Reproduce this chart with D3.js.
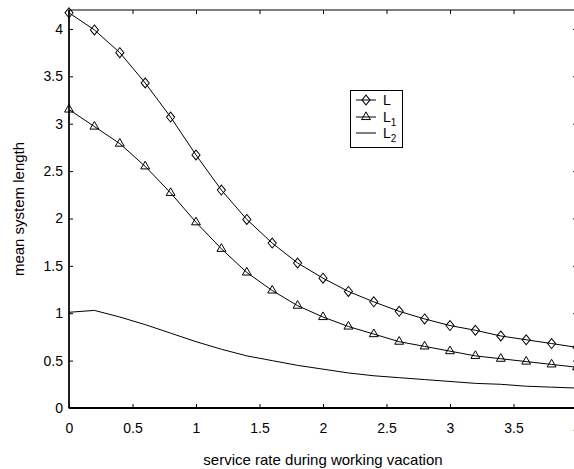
<!DOCTYPE html>
<html>
<head>
<meta charset="utf-8">
<script src="https://cdn.jsdelivr.net/npm/d3@7"></script>
<style>
  body { margin: 0; background: #fff; }
  svg { display: block; font-family: "Liberation Sans", Arial, sans-serif; }
</style>
</head>
<body>
<script>
// service rate during working vacation, 0 .. 4 in steps of 0.2
const rates = [0, 0.2, 0.4, 0.6, 0.8, 1.0, 1.2, 1.4, 1.6, 1.8, 2.0,
               2.2, 2.4, 2.6, 2.8, 3.0, 3.2, 3.4, 3.6, 3.8, 4.0];
const valuesL  = [4.17, 3.99, 3.75, 3.43, 3.07, 2.67, 2.30, 1.99, 1.74, 1.53, 1.37,
                  1.23, 1.12, 1.02, 0.94, 0.87, 0.82, 0.76, 0.72, 0.68, 0.64];
const valuesL1 = [3.15, 2.97, 2.79, 2.55, 2.27, 1.96, 1.68, 1.43, 1.24, 1.08, 0.96,
                  0.86, 0.78, 0.70, 0.65, 0.60, 0.55, 0.52, 0.49, 0.46, 0.43];
const valuesL2 = [1.01, 1.03, 0.96, 0.88, 0.79, 0.70, 0.62, 0.55, 0.50, 0.45, 0.41,
                  0.37, 0.34, 0.32, 0.30, 0.28, 0.26, 0.25, 0.23, 0.22, 0.21];
const xTicks = [0, 0.5, 1, 1.5, 2, 2.5, 3, 3.5, 4];
const yTicks = [0, 0.5, 1, 1.5, 2, 2.5, 3, 3.5, 4];

const width = 574, height = 469;
const mLeft = 69, mRight = 577, mTop = 10, mBottom = 408;

const svg = d3.select("body").append("svg")
    .attr("width", width)
    .attr("height", height);

const x = d3.scaleLinear().domain([0, 4]).range([mLeft, mRight]);
const y = d3.scaleLinear().domain([0, 4.2]).range([mBottom, mTop]);

// axes, ticks point inward like matlab
const fmt = d => String(d);
svg.append("g")
    .attr("transform", `translate(0,${mBottom})`)
    .call(d3.axisBottom(x).tickValues(xTicks).tickSize(-4).tickPadding(15).tickFormat(fmt));
svg.append("g")
    .attr("transform", `translate(0,${mTop})`)
    .call(d3.axisTop(x).tickValues(xTicks).tickSize(-4).tickFormat(""));
svg.append("g")
    .attr("transform", `translate(${mLeft},0)`)
    .call(d3.axisLeft(y).tickValues(yTicks).tickSize(-4).tickPadding(6).tickFormat(fmt));
svg.append("g")
    .attr("transform", `translate(${mRight},0)`)
    .call(d3.axisRight(y).tickValues(yTicks).tickSize(-4).tickFormat(""));

svg.selectAll(".domain").remove();
svg.selectAll(".tick line").attr("stroke", "#000");
svg.selectAll(".tick text")
    .attr("fill", "#000")
    .style("font-size", "14px")
    .style("font-family", "Liberation Sans, Arial, sans-serif");

// frame
svg.append("rect")
    .attr("x", mLeft).attr("y", mTop)
    .attr("width", mRight - mLeft).attr("height", mBottom - mTop)
    .attr("fill", "none").attr("stroke", "#000").attr("stroke-width", 1);
svg.append("line")
    .attr("x1", mLeft).attr("x2", mRight).attr("y1", mBottom).attr("y2", mBottom)
    .attr("stroke", "#000").attr("stroke-width", 2);
svg.append("line")
    .attr("x1", mLeft).attr("x2", mLeft).attr("y1", mTop).attr("y2", mBottom)
    .attr("stroke", "#000").attr("stroke-width", 1.5);

const line = d3.line().x(d => x(d[0])).y(d => y(d[1]));
const series = [valuesL, valuesL1, valuesL2].map(v => rates.map((r, i) => [r, v[i]]));

series.forEach(s => {
  svg.append("path")
      .datum(s)
      .attr("d", line)
      .attr("fill", "none")
      .attr("stroke", "#000")
      .attr("stroke-width", 1);
});

const diamond = d3.symbol().type(d3.symbolDiamond2).size(52);
const triangle = d3.symbol().type(d3.symbolTriangle).size(34);
const diamondShape = "scale(0.9,1.1)";

svg.append("g").selectAll("path")
    .data(series[0])
    .join("path")
    .attr("transform", d => `translate(${x(d[0])},${y(d[1])}) ${diamondShape}`)
    .attr("d", diamond)
    .attr("fill", "none")
    .attr("stroke", "#000")
    .attr("stroke-width", 1);

svg.append("g").selectAll("path")
    .data(series[1])
    .join("path")
    .attr("transform", d => `translate(${x(d[0])},${y(d[1])})`)
    .attr("d", triangle)
    .attr("fill", "none")
    .attr("stroke", "#000")
    .attr("stroke-width", 1);

// axis titles
svg.append("text")
    .attr("x", (mLeft + mRight) / 2)
    .attr("y", 465)
    .attr("text-anchor", "middle")
    .style("font-size", "15px")
    .text("service rate during working vacation");

svg.append("text")
    .attr("transform", `translate(24,${(mTop + mBottom) / 2}) rotate(-90)`)
    .attr("text-anchor", "middle")
    .style("font-size", "15px")
    .text("mean system length");

// legend
const legend = svg.append("g");
legend.append("rect")
    .attr("x", 350.5).attr("y", 90.5)
    .attr("width", 52).attr("height", 57)
    .attr("fill", "#fff").attr("stroke", "#000").attr("stroke-width", 1);

const rowsY = [100, 117, 133];
const names = [["L", ""], ["L", "1"], ["L", "2"]];
rowsY.forEach((ry, i) => {
  legend.append("line")
      .attr("x1", 356).attr("x2", 376).attr("y1", ry).attr("y2", ry)
      .attr("stroke", "#000").attr("stroke-width", 1);
  if (i === 0) {
    legend.append("path")
        .attr("transform", `translate(366,${ry}) ${diamondShape}`)
        .attr("d", diamond)
        .attr("fill", "none").attr("stroke", "#000");
  } else if (i === 1) {
    legend.append("path")
        .attr("transform", `translate(366,${ry})`)
        .attr("d", triangle)
        .attr("fill", "none").attr("stroke", "#000");
  }
  const t = legend.append("text")
      .attr("x", 383).attr("y", ry + 5)
      .style("font-size", "14px")
      .text(names[i][0]);
  if (names[i][1]) {
    t.append("tspan")
        .attr("dy", 4)
        .style("font-size", "10px")
        .text(names[i][1]);
  }
});
</script>
</body>
</html>
